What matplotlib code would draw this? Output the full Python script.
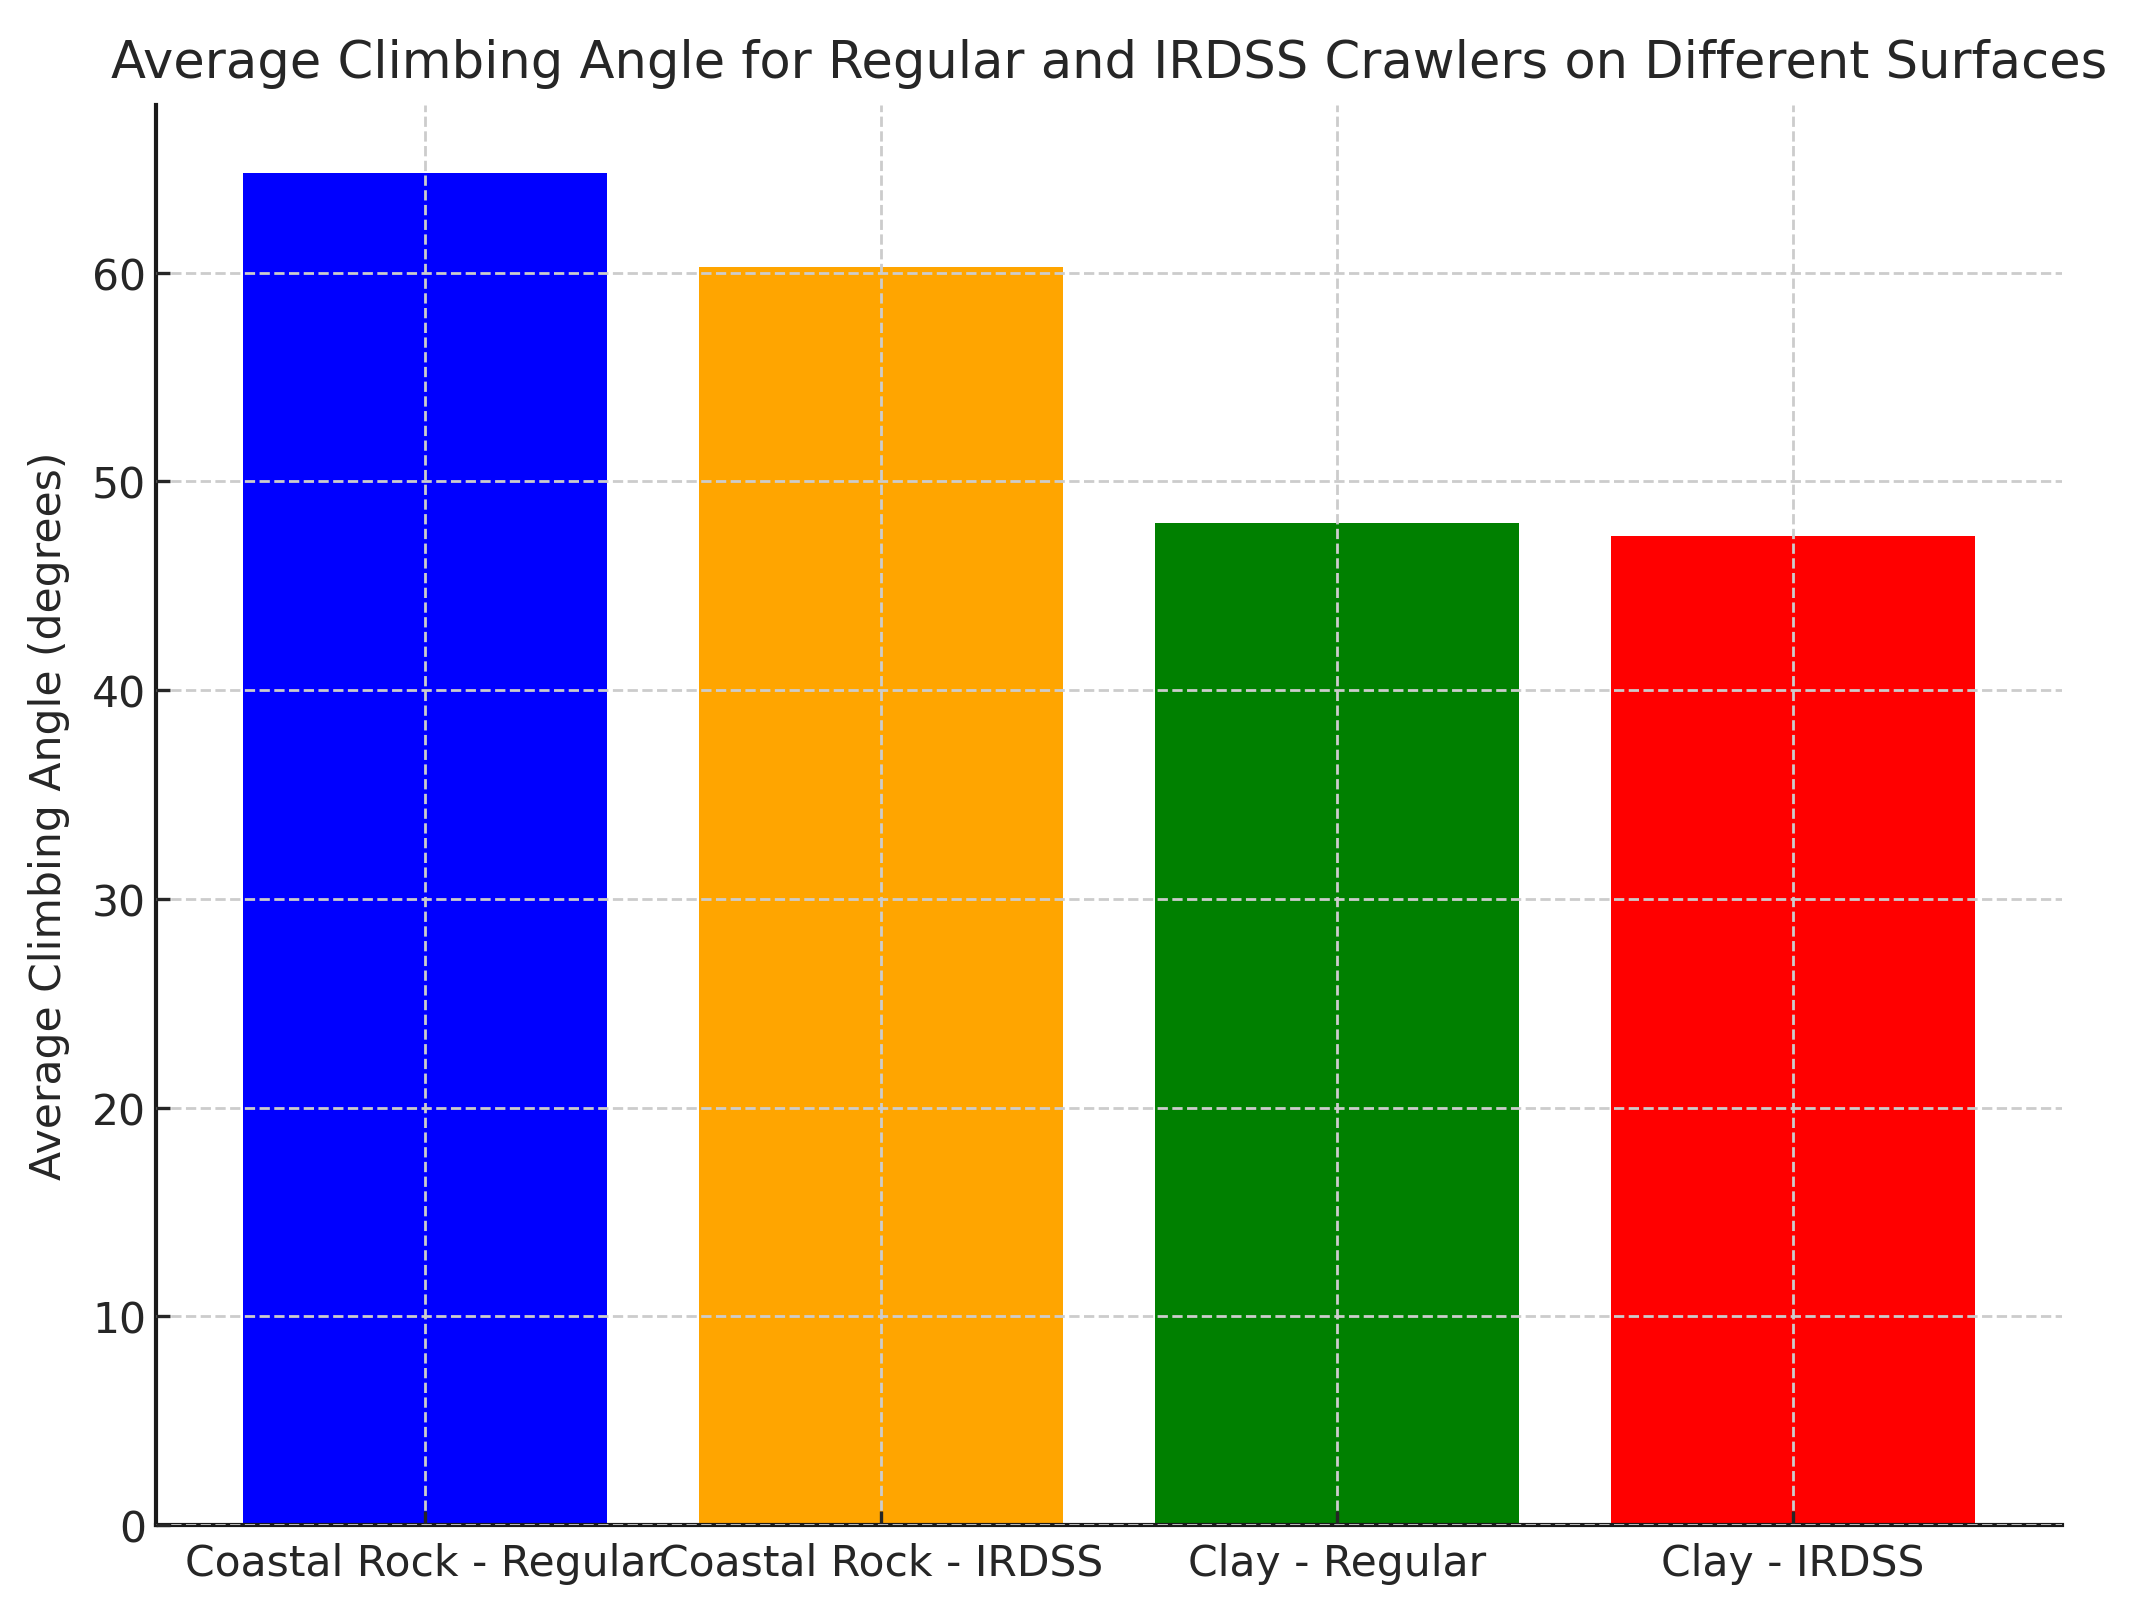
import matplotlib
matplotlib.use("Agg")
import matplotlib.pyplot as plt

categories = ["Coastal Rock - Regular", "Coastal Rock - IRDSS", "Clay - Regular", "Clay - IRDSS"]
values = [64.8, 60.3, 48.0, 47.4]
colors = ["blue", "orange", "green", "red"]

plt.rcParams['text.color'] = '#262626'
plt.rcParams['axes.labelcolor'] = '#262626'
plt.rcParams['xtick.color'] = '#262626'
plt.rcParams['ytick.color'] = '#262626'

fig = plt.figure(figsize=(10.65, 8.03), dpi=200)
ax = fig.add_axes([156/2130, 1-1526/1606, (2062-156)/2130, (1526-106)/1606])
ax.bar(categories, values, color=colors, width=0.8)
ax.set_title("Average Climbing Angle for Regular and IRDSS Crawlers on Different Surfaces", fontsize=18.4, pad=10)
ax.set_ylabel("Average Climbing Angle (degrees)", fontsize=15.3, labelpad=8)
ax.tick_params(axis='both', direction='in', labelsize=15.3, colors='#262626', width=1.2, length=5)
ax.tick_params(axis='x', pad=6)
ax.grid(True, linestyle='--', color='#cccccc', linewidth=1.0)
ax.set_axisbelow(False)
for s in ['top', 'right']:
    ax.spines[s].set_visible(False)
for s in ['left', 'bottom']:
    ax.spines[s].set_linewidth(1.5)
    ax.spines[s].set_color('#1a1a1a')
fig.savefig("out.png", dpi=200)
